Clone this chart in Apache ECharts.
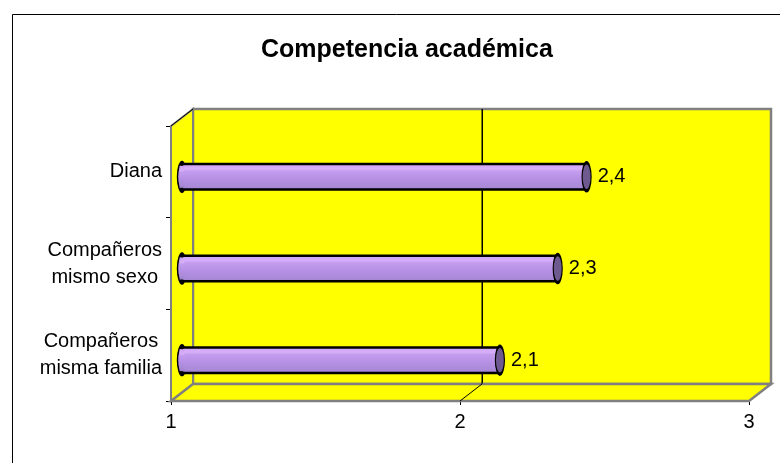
<!DOCTYPE html>
<html>
<head>
<meta charset="utf-8">
<script src="https://cdn.jsdelivr.net/npm/echarts@6/dist/echarts.min.js"></script>
<style>
html,body{margin:0;padding:0;background:#fff;}
#c{width:780px;height:463px;}
</style>
</head>
<body>
<div id="c"></div>
<script>
// ---- data ----
const titleText = 'Competencia académica';
const categories = ['Compañeros\nmisma familia', 'Compañeros\nmismo sexo', 'Diana'];
const values = [2.1, 2.3, 2.4];
const axisMin = 1, axisMax = 3, axisStep = 1;

// ---- layout ----
const FONT = "'Liberation Sans', Arial, sans-serif";
const backL = 193, backT = 109, backW = 578, backH = 275;
const dx = 22, dy = 17;
const frontL = backL - dx, frontT = backT + dy;
const barL = backL - dx / 2, barT = frontT + 5;
const YELLOW = '#FFFF00', GRAY = '#808080';

const chart = echarts.init(document.getElementById('c'), null, {renderer: 'canvas'});

function barGradient() {
  return new echarts.graphic.LinearGradient(0, 0, 0, 1, [
    {offset: 0, color: '#CFA4F4'},
    {offset: 0.22, color: '#D6AEF9'},
    {offset: 0.3, color: '#C39CEE'},
    {offset: 0.6, color: '#B58FE4'},
    {offset: 0.85, color: '#A98AD8'},
    {offset: 1, color: '#9C80CC'}
  ]);
}
const startPoints = values.map((v, i) => [axisMin, categories[i]]);

const option = {
  animation: false,
  backgroundColor: '#fff',
  title: {
    text: titleText,
    left: 256, top: 33,
    textStyle: {fontFamily: FONT, fontSize: 25, fontWeight: 'bold', color: '#000'}
  },
  grid: [
    {left: backL, top: backT, width: backW, height: backH, show: true,
     backgroundColor: YELLOW, borderColor: GRAY, borderWidth: 2.5, z: 0},
    {left: frontL, top: frontT, width: backW, height: backH},
    {left: barL, top: barT, width: backW, height: backH}
  ],
  xAxis: [
    {gridIndex: 0, type: 'value', min: axisMin, max: axisMax, interval: axisStep,
     axisLine: {show: false}, axisTick: {show: false}, axisLabel: {show: false},
     splitLine: {show: true, showMinLine: false, showMaxLine: false, lineStyle: {color: '#000', width: 1}}},
    {gridIndex: 1, type: 'value', min: axisMin, max: axisMax, interval: axisStep,
     axisLine: {show: true, lineStyle: {color: '#000', width: 1}},
     axisTick: {show: true, length: 4, lineStyle: {color: '#000'}},
     axisLabel: {show: true, fontFamily: FONT, fontSize: 20, color: '#000', margin: 11},
     splitLine: {show: false}},
    {gridIndex: 2, type: 'value', min: axisMin, max: axisMax, show: false}
  ],
  yAxis: [
    {gridIndex: 0, type: 'category', data: categories, show: false},
    {gridIndex: 1, type: 'category', data: categories,
     axisLine: {show: true, lineStyle: {color: '#000', width: 1}},
     axisTick: {show: true, length: 5, lineStyle: {color: '#000'}},
     axisLabel: {
       margin: 9,
       formatter: v => v.split('\n').map(s => '{c|' + s + '}').join('\n'),
       rich: {c: {align: 'center', fontFamily: FONT, fontSize: 20, lineHeight: 27, color: '#000'}}
     }},
    {gridIndex: 2, type: 'category', data: categories, show: false}
  ],
  series: [
    // rounded start of each cylinder (outlined, below the bar)
    {type: 'scatter', xAxisIndex: 2, yAxisIndex: 2, z: 4, data: startPoints,
     symbol: 'circle', symbolSize: [9, 28], silent: true,
     itemStyle: {color: barGradient(), borderColor: '#000', borderWidth: 2.5, opacity: 1}},
    {type: 'bar', xAxisIndex: 2, yAxisIndex: 2, data: values, barWidth: 28, z: 5,
     itemStyle: {color: barGradient(), borderColor: '#000', borderWidth: 2.5}},
    // fill over the bar's left edge so the start looks round
    {type: 'scatter', xAxisIndex: 2, yAxisIndex: 2, z: 7, data: startPoints,
     symbol: 'rect', symbolSize: [5, 22], silent: true,
     itemStyle: {color: barGradient(), borderWidth: 0, opacity: 1}},
    // dark end cap with the value label
    {type: 'scatter', xAxisIndex: 2, yAxisIndex: 2, z: 8,
     data: values.map((v, i) => [v, categories[i]]),
     symbol: 'circle', symbolSize: [9, 28],
     itemStyle: {color: '#6E5A8E', borderColor: '#000', borderWidth: 2, opacity: 1},
     label: {show: true, position: 'right', distance: 6, fontFamily: FONT, fontSize: 20, color: '#000',
       formatter: p => String(p.value[0]).replace('.', ',')}}
  ]
};
chart.setOption(option);

// 3D walls derived from the axes
const fb = frontT + backH, bb = backT + backH;
const g2front = chart.convertToPixel({xAxisIndex: 1}, 2);
const g2back = chart.convertToPixel({xAxisIndex: 0}, 2);
const frontR = frontL + backW, backR = backL + backW;
chart.setOption({
  graphic: {elements: [
    {type: 'rect', z: -10, shape: {x: 12.5, y: 14.5, width: 820, height: 520},
     style: {fill: 'none', stroke: '#000', lineWidth: 1}},
    {type: 'polygon', z: 1, shape: {points: [[frontL, frontT], [backL, backT], [backL, bb], [frontL, fb]]},
     style: {fill: YELLOW, stroke: GRAY, lineWidth: 2}},
    {type: 'line', z: 2, shape: {x1: frontL, y1: frontT, x2: backL, y2: backT},
     style: {stroke: '#000', lineWidth: 1}},
    {type: 'polygon', z: 1, shape: {points: [[frontL, fb], [backL, bb], [backR, bb], [frontR, fb]]},
     style: {fill: YELLOW, stroke: GRAY, lineWidth: 2.5}},
    {type: 'line', z: 2, shape: {x1: g2front, y1: fb, x2: g2back, y2: bb},
     style: {stroke: '#000', lineWidth: 1}},
    {type: 'line', z: 2, shape: {x1: g2back, y1: backT, x2: g2back, y2: bb},
     style: {stroke: '#000', lineWidth: 1}}
  ]}
});
</script>
</body>
</html>
